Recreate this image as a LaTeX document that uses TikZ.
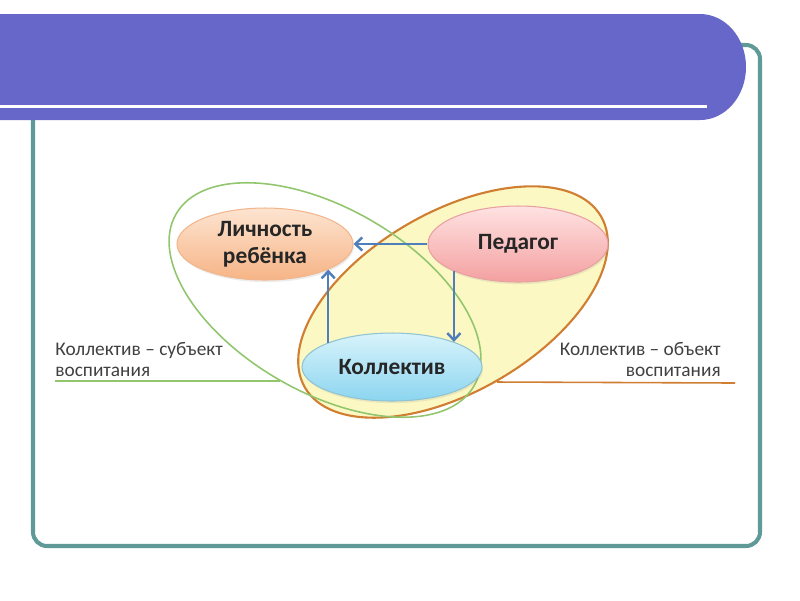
\documentclass[tikz,border=0pt]{standalone}
\usepackage{fontspec}
\setmainfont{Carlito}
\usepackage{xcolor}
\usepackage{tikz}
\usetikzlibrary{shapes.geometric,arrows.meta,shadows}
\definecolor{bar}{HTML}{6767C9}
\definecolor{frameteal}{HTML}{5F9A98}
\definecolor{arrowblue}{HTML}{4F7FBA}
\definecolor{subjgreen}{HTML}{92C66E}
\definecolor{objorange}{HTML}{CF7E32}
\definecolor{objfill}{HTML}{FCF8C3}
\definecolor{ink}{HTML}{262626}
\definecolor{muted}{HTML}{404040}
\definecolor{lichtop}{HTML}{FDE4D0}
\definecolor{lichbot}{HTML}{F6B486}
\definecolor{lichline}{HTML}{F2B68C}
\definecolor{pedtop}{HTML}{FFE2E2}
\definecolor{pedbot}{HTML}{F4A0A0}
\definecolor{pedline}{HTML}{E8A0A0}
\definecolor{koltop}{HTML}{D8F3FB}
\definecolor{kolbot}{HTML}{8CD5F0}
\definecolor{kolline}{HTML}{8FC4D2}
\tikzset{
  frame/.style={draw=frameteal, line width=2.3pt, rounded corners=8pt},
  role/.style={ellipse, inner sep=0pt, line width=0.6pt, text=ink, align=center,
    font=\bfseries\fontsize{13.3}{15.5}\selectfont,
    drop shadow={shadow xshift=0.6pt, shadow yshift=-1.2pt, opacity=0.15}},
  link/.style={draw=arrowblue, line width=1.4pt, -{Straight Barb[length=4pt,width=7.5pt]}},
  note/.style={text=muted, inner sep=0pt, font=\fontsize{11}{12}\selectfont},
}

\begin{document}
\begin{tikzpicture}[x=0.02cm, y=0.02cm]
  \useasboundingbox (0,0) rectangle (800,-600);
  % slide frame and title bar
  \draw[frame] (33,-45) rectangle (760,-546);
  \fill[bar] (0,-14) -- (700,-14) arc[start angle=90, end angle=-90, x radius=46, y radius=53] -- (0,-120) -- cycle;
  \draw[white, line width=1.7pt] (0,-106) -- (707,-106);

  % the two groups
  \fill[objfill, rotate around={30:(453,-302)}] (453,-302) ellipse [x radius=171, y radius=90];
  \draw[objorange, line width=1.2pt, rotate around={30:(453,-302)}] (453,-302) ellipse [x radius=171, y radius=90];
  \draw[subjgreen, line width=0.9pt, rotate around={-30:(325,-300)}] (325,-300) ellipse [x radius=172, y radius=92];

  \node[note, anchor=north west, align=left] (subj) at (55,-342) {Коллектив – субъект\\воспитания};
  \node[note, anchor=north east, align=right] (obj) at (721,-342) {Коллектив – объект\\воспитания};
  \coordinate (subjend) at (280,-381);
  \coordinate (objend) at (497,-382);
  \coordinate (objtip) at (735,-383);
  \draw[subjgreen, line width=0.9pt] (subjend -| subj.west) -- (subjend);
  \draw[objorange, line width=0.9pt] (objend) -- (objtip);

  \node[role, minimum width=3.52cm, minimum height=1.44cm, draw=lichline,
    top color=lichtop, bottom color=lichbot] (lich) at (265,-244) {Личность\\ребёнка};
  \node[role, minimum width=3.6cm, minimum height=1.52cm, draw=pedline,
    top color=pedtop, bottom color=pedbot] (ped) at (518,-244) {Педагог};
  \node[role, minimum width=3.6cm, minimum height=1.36cm, draw=kolline,
    top color=koltop, bottom color=kolbot] (kol) at (392,-367) {Коллектив};

  \draw[link] (ped.west) -- (lich.east);
  \draw[link] (kol.159) -- (kol.159 |- lich.-22);
  \draw[link] (ped.-157) -- (ped.-157 |- kol.22);
\end{tikzpicture}
\end{document}
